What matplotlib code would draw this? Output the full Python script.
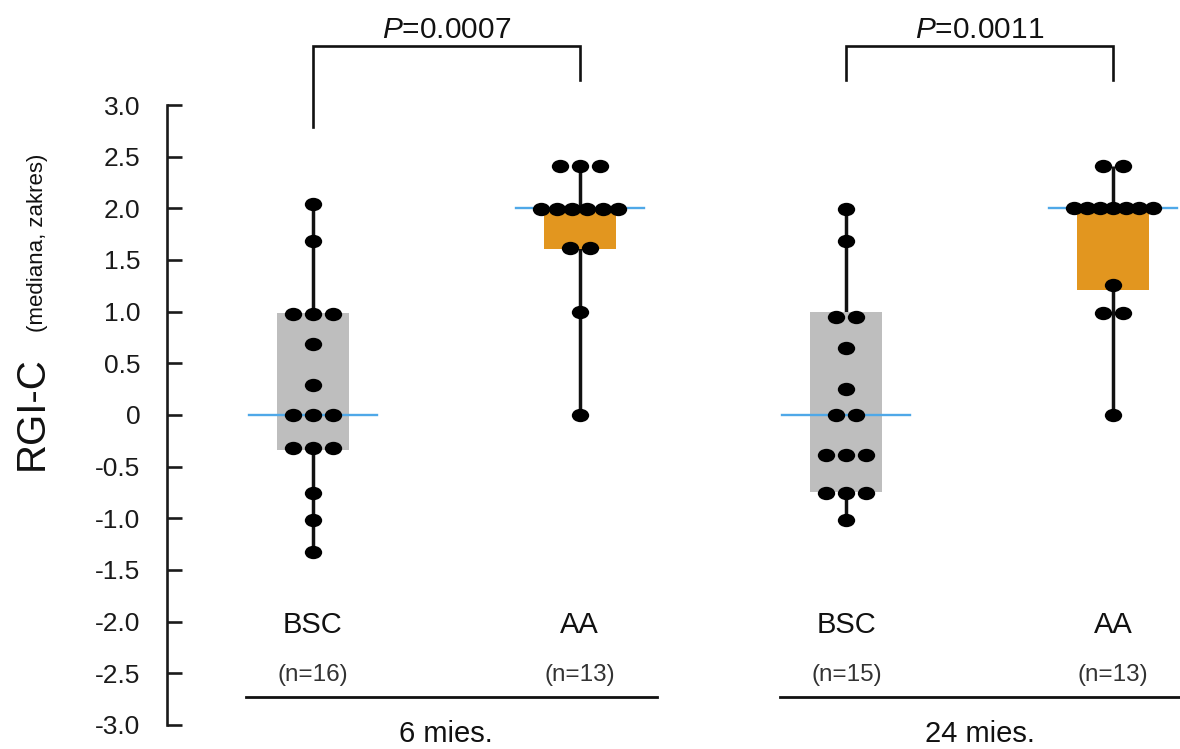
import numpy as np
import matplotlib
matplotlib.use("Agg")
import matplotlib.pyplot as plt
from matplotlib.path import Path
from matplotlib.markers import MarkerStyle

plt.rcParams['font.family'] = ['Liberation Sans', 'DejaVu Sans']
plt.rcParams['mathtext.fontset'] = 'custom'
plt.rcParams['mathtext.rm'] = 'Liberation Sans'
plt.rcParams['mathtext.it'] = 'Liberation Sans:italic'

# ---------------- data ----------------
groups = ["BSC", "AA", "BSC", "AA"]
n_labels = ["(n=16)", "(n=13)", "(n=15)", "(n=13)"]
periods = ["6 mies.", "24 mies."]
p_values = ["0.0007", "0.0011"]

bsc_6 = [2.04, 1.68, 0.98, 0.98, 0.98, 0.69, 0.29, 0, 0, 0,
         -0.32, -0.32, -0.32, -0.76, -1.02, -1.33]
aa_6 = [2.41, 2.41, 2.41, 1.99, 1.99, 1.99, 1.99, 1.99, 1.99,
        1.62, 1.62, 1.0, 0]
bsc_24 = [1.99, 1.68, 0.95, 0.95, 0.65, 0.25, 0, 0,
          -0.39, -0.39, -0.39, -0.76, -0.76, -0.76, -1.02]
aa_24 = [2.41, 2.41, 2.0, 2.0, 2.0, 2.0, 2.0, 2.0, 2.0,
         1.26, 0.99, 0.99, 0]
series = [bsc_6, aa_6, bsc_24, aa_24]

box_low = [-0.34, 1.61, -0.75, 1.21]
box_high = [0.99, 1.99, 1.0, 2.0]
medians = [0, 2.0, 0, 2.0]

tick_values = [3.0, 2.5, 2.0, 1.5, 1.0, 0.5, 0, -0.5, -1.0, -1.5, -2.0, -2.5, -3.0]
tick_labels = ["3.0", "2.5", "2.0", "1.5", "1.0", "0.5", "0", "-0.5",
               "-1.0", "-1.5", "-2.0", "-2.5", "-3.0"]

box_colors = ["#BEBEBE", "#E2961F", "#BEBEBE", "#E2961F"]
median_color = "#4FA8E8"

# ---------------- figure ----------------
W, H = 1180, 749
fig = plt.figure(figsize=(W / 100, H / 100), dpi=100)
ax = fig.add_axes([167 / W, 0, 1 - 167 / W, 1])
ax.set_xlim(-0.5474, 3.2508)
ax.set_ylim(-3.234, 4.0165)

for s in ["top", "right", "bottom"]:
    ax.spines[s].set_visible(False)
ax.spines["left"].set_bounds(-3, 3)
ax.spines["left"].set_linewidth(1.9)
ax.spines["left"].set_color("#1a1a1a")
ax.set_xticks([])
ax.set_yticks(tick_values)
ax.set_yticklabels(tick_labels)
ax.tick_params(axis='y', direction='in', length=10.8, width=1.9,
               pad=19, labelsize=19, colors="#1a1a1a")

# elliptical dot marker
circ = Path.unit_circle()
ell = Path(circ.vertices * np.array([1.3, 1.0]), circ.codes)
marker = MarkerStyle(ell)

px_per_unit_x = 266.7
box_w = 0.27
med_w = 0.48

for i, vals in enumerate(series):
    vals = np.array(vals, dtype=float)
    # whisker
    ax.plot([i, i], [vals.min(), vals.max()], color="#111111", lw=2.5,
            zorder=1, solid_capstyle='butt')
    # box
    ax.bar(i, box_high[i] - box_low[i], bottom=box_low[i], width=box_w,
           color=box_colors[i], zorder=2, linewidth=0)
    # median
    ax.plot([i - med_w / 2, i + med_w / 2], [medians[i], medians[i]],
            color=median_color, lw=1.7, zorder=3)
    # dots (centered swarm for identical values)
    uniq, counts = np.unique(vals, return_counts=True)
    xpos = np.zeros_like(vals)
    for u, k in zip(uniq, counts):
        idx = np.where(vals == u)[0]
        sp = min(20.0, 92.0 / k) / px_per_unit_x
        for j, ii in enumerate(idx):
            xpos[ii] = i + (j - (k - 1) / 2) * sp
    ax.scatter(xpos, vals, marker=marker, s=12.5 ** 2, color="black",
               zorder=4, linewidths=0)

# group labels
for i in range(4):
    ax.text(i, -2.11, groups[i], ha='center', va='baseline', fontsize=21,
            color="#111111")
    ax.text(i, -2.575, n_labels[i], ha='center', va='baseline', fontsize=17.5,
            color="#333333")

# period labels and separator lines
for k in range(2):
    c = 2 * k + 0.5
    ax.plot([c - 0.75, c + 0.79], [-2.73, -2.73], color="#111111", lw=2.0,
            clip_on=False)
    ax.text(c, -3.165, periods[k], ha='center', va='baseline', fontsize=21,
            color="#111111")

# p-value brackets
left_leg_bottom = [2.79, 3.24]
for k in range(2):
    x1, x2 = 2 * k, 2 * k + 1
    ax.plot([x1, x1, x2, x2], [left_leg_bottom[k], 3.57, 3.57, 3.24],
            color="#111111", lw=1.9, clip_on=False, solid_joinstyle='miter')
    ax.text((x1 + x2) / 2, 3.65, r"$\mathit{P}$=" + p_values[k], ha='center',
            va='baseline', fontsize=21.5, color="#111111")

# y label (two sizes, shared baseline)
fig.text(43 / W, 1 - 470 / H, "RGI-C", rotation=90, rotation_mode='anchor',
         ha='left', va='baseline', fontsize=29, color="#111111")
fig.text(43 / W, 1 - 332 / H, "(mediana, zakres)", rotation=90,
         rotation_mode='anchor', ha='left', va='baseline', fontsize=16,
         color="#111111")

fig.savefig("out.png", dpi=100)
